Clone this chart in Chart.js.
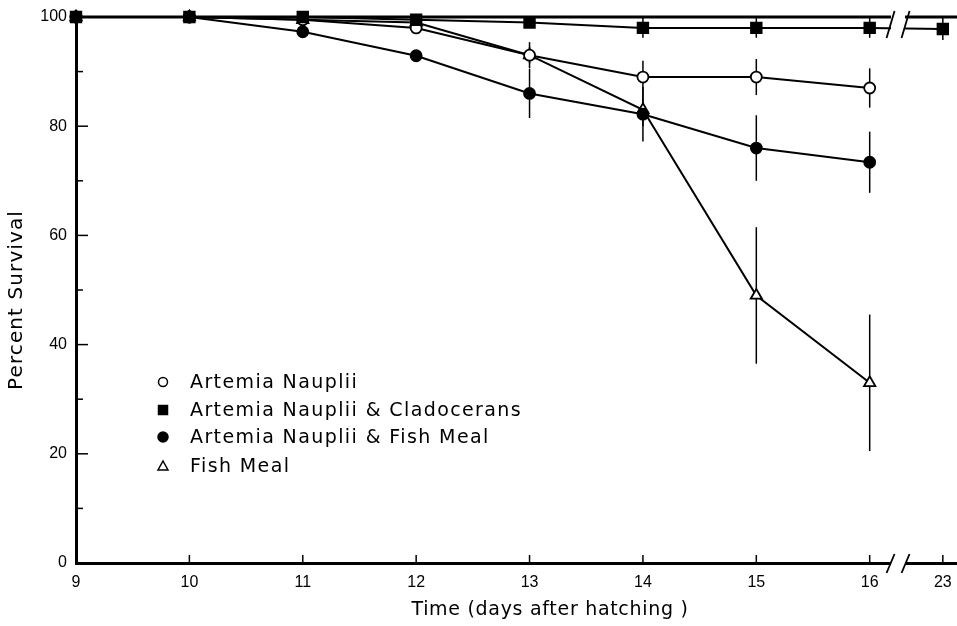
<!DOCTYPE html>
<html>
<head>
<meta charset="utf-8">
<script src="https://cdn.jsdelivr.net/npm/chart.js@4.4.0/dist/chart.umd.min.js"></script>
<style>
    html, body { margin: 0; padding: 0; background: #fff; overflow: hidden; }
    canvas { display: block; }
</style>
</head>
<body>
<canvas id="survivalChart" width="957" height="626"></canvas>
<script>
// Sampling days (day 23 sits after the axis break)
const days = [9, 10, 11, 12, 13, 14, 15, 16];
const lateDay = 23;
const yTicks = [0, 20, 40, 60, 80, 100];

// Percent survival, with error bar half-widths
const artemia = [100, 100, 99.5, 98, 93, 89, 89, 87];
const artemiaErr = [0, 0.8, 0.5, 0.5, 1.5, 3, 3.3, 3.6];

const cladocerans = [100, 100, 100, 99.5, 99, 98, 98, 98];
const cladoceransLate = 97.8;
const cladoceransErr = [0, 0, 0.5, 0.5, 0.8, 1.8, 1.8, 1.8];
const cladoceransLateErr = 2;

const artemiaFish = [100, 100, 97.3, 92.9, 86, 82.2, 76, 73.4];
const artemiaFishErr = [0, 0, 0.5, 0.8, 4.5, 5, 6, 5.6];

const fishMeal = [100, 100, 99.5, 99, 93, 83, 49, 33];
const fishMealErr = [0, 0, 0, 0, 2.4, 3, 12.5, 12.5];

// where things go on the broken x axis
const breakAt = 16.25;
const latePos = 16.645;
const TICK_FONT = "'Liberation Sans', Arial, sans-serif";
const TEXT_FONT = "'DejaVu Sans', 'Liberation Sans', sans-serif";

function xPos(day) {
    return day > 16 ? latePos : day;
}

function toPoints(vals, errs) {
    return days.map((d, i) => ({ x: xPos(d), y: vals[i], err: errs[i] }));
}

const cladPoints = toPoints(cladocerans, cladoceransErr);
cladPoints.push({ x: xPos(lateDay), y: cladoceransLate, err: cladoceransLateErr });

const datasets = [
    {
        label: 'Artemia Nauplii',
        data: toPoints(artemia, artemiaErr),
        pointStyle: 'circle', pointRadius: 5.5, order: 2,
        backgroundColor: '#fff', legendFill: false
    },
    {
        label: 'Artemia Nauplii & Cladocerans',
        data: cladPoints,
        pointStyle: 'rect', pointRadius: 7.5, order: 0,
        backgroundColor: '#000', legendFill: true
    },
    {
        label: 'Artemia Nauplii & Fish Meal',
        data: toPoints(artemiaFish, artemiaFishErr),
        pointStyle: 'circle', pointRadius: 5.5, order: 1,
        backgroundColor: '#000', legendFill: true
    },
    {
        label: 'Fish Meal',
        data: toPoints(fishMeal, fishMealErr),
        pointStyle: 'triangle', pointRadius: 6.5, order: 3,
        backgroundColor: '#fff', legendFill: false
    }
].map(ds => Object.assign({
    borderColor: '#000',
    borderWidth: 2,
    pointBorderColor: '#000',
    pointBackgroundColor: ds.backgroundColor,
    pointBorderWidth: 1.8,
    tension: 0,
    clip: false
}, ds));

// error bars, frame, ticks, axis break, titles and legend
const extras = {
    id: 'extras',
    beforeDatasetsDraw(chart) {
        const { ctx, scales: { x, y } } = chart;
        ctx.save();
        ctx.strokeStyle = '#000';
        ctx.lineWidth = 1.5;
        chart.data.datasets.forEach(ds => {
            ds.data.forEach(p => {
                if (!p.err) return;
                const px = x.getPixelForValue(p.x);
                ctx.beginPath();
                ctx.moveTo(px, y.getPixelForValue(p.y + p.err));
                ctx.lineTo(px, y.getPixelForValue(p.y - p.err));
                ctx.stroke();
            });
        });
        ctx.restore();
    },
    afterDraw(chart) {
        const { ctx, chartArea: a, scales: { x, y } } = chart;
        ctx.save();
        ctx.strokeStyle = '#000';

        // top frame
        ctx.lineWidth = 3;
        ctx.beginPath();
        ctx.moveTo(a.left, a.top);
        ctx.lineTo(a.right, a.top);
        ctx.stroke();

        // inward ticks
        ctx.lineWidth = 1.5;
        days.concat([lateDay]).forEach(d => {
            const px = x.getPixelForValue(xPos(d));
            ctx.beginPath();
            ctx.moveTo(px, a.bottom);
            ctx.lineTo(px, a.bottom - 8);
            ctx.stroke();
        });
        for (let v = 10; v < 100; v += 10) {
            const py = y.getPixelForValue(v);
            const len = v % 20 === 0 ? 12 : 7;
            ctx.beginPath();
            ctx.moveTo(a.left, py);
            ctx.lineTo(a.left + len, py);
            ctx.stroke();
        }

        // axis break: top one crosses the frame and the cladocerans line
        const bx = x.getPixelForValue(breakAt);
        const cut = (yTop, yBot) => {
            ctx.fillStyle = '#fff';
            ctx.fillRect(bx - 7, yTop + 2, 14, yBot - yTop - 4);
            ctx.lineWidth = 1.8;
            [-7.5, 7.5].forEach(off => {
                ctx.beginPath();
                ctx.moveTo(bx + off - 4, yBot);
                ctx.lineTo(bx + off + 4, yTop);
                ctx.stroke();
            });
        };
        const yTopLine = y.getPixelForValue(100);
        cut(yTopLine - 6, y.getPixelForValue(cladoceransLate) + 9);
        const yBase = y.getPixelForValue(0);
        cut(yBase - 9, yBase + 10);

        // axis titles
        ctx.fillStyle = '#000';
        ctx.textBaseline = 'middle';
        ctx.textAlign = 'center';
        ctx.font = '19px ' + TEXT_FONT;
        ctx.letterSpacing = '0.7px';
        ctx.fillText('Time (days after hatching )', 550, 610);
        ctx.save();
        ctx.translate(17, 300);
        ctx.rotate(-Math.PI / 2);
        ctx.font = '20px ' + TEXT_FONT;
        ctx.letterSpacing = '1.1px';
        ctx.fillText('Percent Survival', 0, 0);
        ctx.restore();

        // legend inside the plot
        const lx = 163, tx = 190;
        const rows = [382, 410, 437, 466];
        ctx.textAlign = 'left';
        ctx.font = '19px ' + TEXT_FONT;
        ctx.letterSpacing = '1.4px';
        chart.data.datasets.forEach((ds, i) => {
            const ly = rows[i];
            ctx.lineWidth = 1.5;
            ctx.fillStyle = ds.legendFill ? '#000' : '#fff';
            ctx.beginPath();
            if (ds.pointStyle === 'rect') {
                ctx.rect(lx - 4.5, ly - 4.5, 9, 9);
            } else if (ds.pointStyle === 'triangle') {
                ctx.moveTo(lx, ly - 5);
                ctx.lineTo(lx + 5, ly + 4);
                ctx.lineTo(lx - 5, ly + 4);
                ctx.closePath();
            } else {
                ctx.arc(lx, ly, ds.legendFill ? 5 : 4.5, 0, Math.PI * 2);
            }
            ctx.fill();
            ctx.stroke();
            ctx.fillStyle = '#000';
            ctx.fillText(ds.label, tx, ly + 1);
        });
        ctx.restore();
    }
};

new Chart(document.getElementById('survivalChart'), {
    type: 'line',
    data: { datasets },
    options: {
        responsive: false,
        animation: false,
        layout: { autoPadding: false, padding: { top: 17, right: 0, left: 0, bottom: 0 } },
        plugins: { legend: { display: false }, tooltip: { enabled: false } },
        scales: {
            x: {
                type: 'linear',
                min: 9,
                max: 16.77,
                afterBuildTicks: axis => {
                    axis.ticks = days.concat([lateDay]).map(d => ({ value: xPos(d) }));
                },
                afterFit: axis => {
                    axis.height = 63;
                    axis.paddingLeft = 0;
                    axis.paddingRight = 0;
                },
                grid: { display: false },
                border: { display: true, color: '#000', width: 3 },
                ticks: {
                    color: '#000',
                    font: { family: TICK_FONT, size: 16 },
                    padding: 2,
                    maxRotation: 0,
                    autoSkip: false,
                    callback: v => (v > 16 ? String(lateDay) : String(v))
                }
            },
            y: {
                min: 0,
                max: 100,
                afterBuildTicks: axis => {
                    axis.ticks = yTicks.map(v => ({ value: v }));
                },
                afterFit: axis => {
                    axis.width = 76;
                    axis.paddingTop = 0;
                    axis.paddingBottom = 0;
                },
                grid: { display: false },
                border: { display: true, color: '#000', width: 3 },
                ticks: {
                    color: '#000',
                    font: { family: TICK_FONT, size: 16 },
                    padding: 1
                }
            }
        }
    },
    plugins: [extras]
});
</script>
</body>
</html>
